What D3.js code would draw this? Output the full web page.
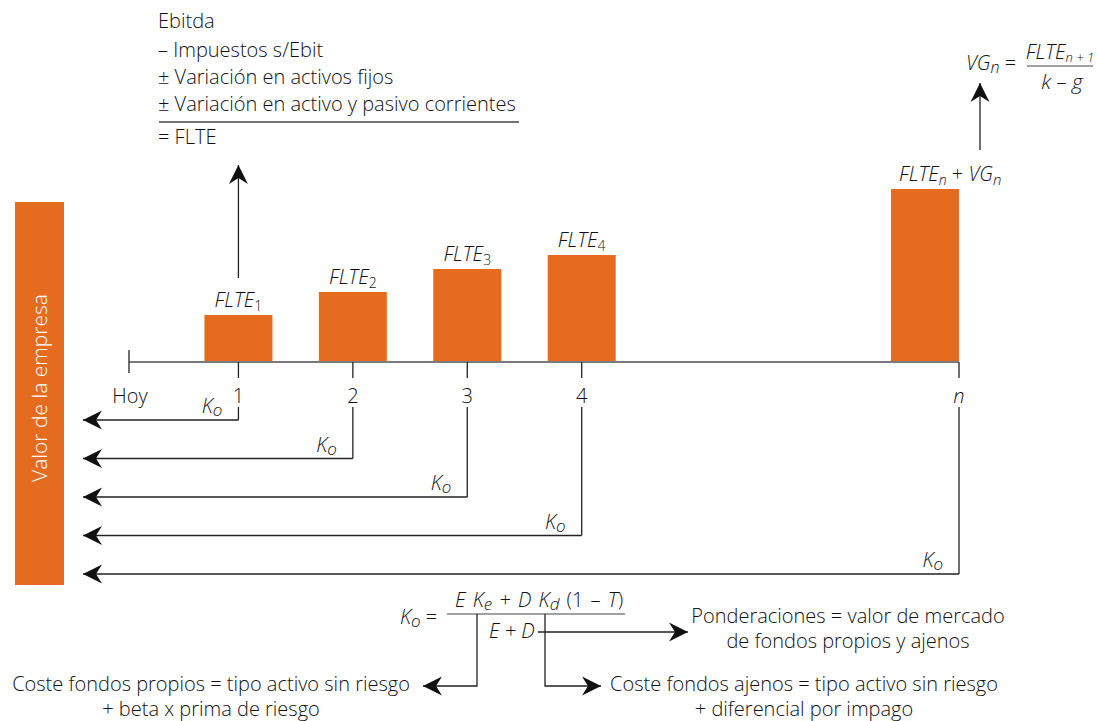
<!DOCTYPE html>
<html lang="es">
<head>
<meta charset="utf-8">
<title>Valor de la empresa — descuento de flujos</title>
<script src="https://cdn.jsdelivr.net/npm/d3@7"></script>
<style>
  html, body { margin: 0; padding: 0; background: #fff; }
  svg { display: block; }
  text { font-family: "Open Sans", "Noto Sans", sans-serif; fill: #111; font-weight: 300; }
</style>
</head>
<body>
<svg id="chart" width="1097" height="721"></svg>
<script>
// Periods on the timeline and the free cash flow of each one
const periods = ["1", "2", "3", "4", "n"];
const periodIndex = [1, 2, 3, 4, 7];
const flteValues = [47, 70, 93, 107, 173];
const barLabels = [
  { base: "FLTE", sub: "1" },
  { base: "FLTE", sub: "2" },
  { base: "FLTE", sub: "3" },
  { base: "FLTE", sub: "4" },
  { base: "FLTE", sub: "n", extra: "VG", extraSub: "n" }
];
const flteSteps = [
  "Ebitda",
  "– Impuestos s/Ebit",
  "± Variación en activos fijos",
  "± Variación en activo y pasivo corrientes",
  "= FLTE"
];
const weightText = ["Ponderaciones = valor de mercado", "de fondos propios y ajenos"];
const equityText = ["Coste fondos propios = tipo activo sin riesgo", "+ beta x prima de riesgo"];
const debtText = ["Coste fondos ajenos = tipo activo sin riesgo", "+ diferencial por impago"];
const sideLabel = "Valor de la empresa";
const todayLabel = "Hoy";

const ORANGE = "#E56C1F";
const INK = "#222";
const FS = "20px";
const svg = d3.select("#chart");

// arrowhead marker
svg.append("defs").append("marker")
  .attr("id", "head")
  .attr("viewBox", "-20 -10 21 20")
  .attr("refX", 0).attr("refY", 0)
  .attr("markerUnits", "userSpaceOnUse")
  .attr("markerWidth", 21).attr("markerHeight", 20)
  .attr("orient", "auto")
  .append("path")
  .attr("d", "M0,0 L-19,-9.5 L-13,0 L-19,9.5 Z")
  .attr("fill", "#111");

const axisY = 362;
const x = d3.scaleLinear().domain([0, 7]).range([124, 925]);
const y = d3.scaleLinear().domain([0, d3.max(flteValues)]).range([axisY, axisY - 173]);
const barW = 68;
const todayX = x(0) + 5;

// side panel
svg.append("rect").attr("x", 15).attr("y", 202).attr("width", 49).attr("height", 383).attr("fill", ORANGE);
svg.append("text")
  .attr("transform", "translate(47,388) rotate(-90)")
  .attr("text-anchor", "middle")
  .style("fill", "#fff").style("font-size", "21px")
  .text(sideLabel);

// bars
const bars = periods.map((p, i) => ({
  p, t: periodIndex[i], v: flteValues[i], lab: barLabels[i],
  cx: x(periodIndex[i])
}));
bars.forEach(d => { d.lead = d.p === "n" ? d.cx + barW / 2 : d.cx; });

svg.selectAll("rect.bar").data(bars).join("rect")
  .attr("class", "bar")
  .attr("x", d => d.cx - barW / 2)
  .attr("y", d => y(d.v))
  .attr("width", barW)
  .attr("height", d => y(0) - y(d.v))
  .attr("fill", ORANGE);

// timeline
svg.append("line").attr("x1", todayX).attr("x2", bars[4].lead).attr("y1", axisY).attr("y2", axisY)
  .attr("stroke", "#7a7a7a").attr("stroke-width", 2);
svg.append("line").attr("x1", todayX).attr("x2", todayX).attr("y1", 350).attr("y2", 373)
  .attr("stroke", "#333").attr("stroke-width", 1.4);
svg.append("text").attr("x", todayX + 1).attr("y", 403).attr("text-anchor", "middle")
  .style("font-size", FS).text(todayLabel);

// bar labels
const labG = svg.selectAll("text.blab").data(bars).join("text")
  .attr("class", "blab")
  .attr("x", d => d.lab.extra ? d.cx - barW / 2 + 8 : d.cx)
  .attr("y", d => y(d.v) - 8)
  .attr("text-anchor", d => d.lab.extra ? "start" : "middle")
  .style("font-size", FS);
labG.each(function(d) {
  const t = d3.select(this);
  const italicSub = isNaN(+d.lab.sub);
  t.append("tspan").style("font-style", "italic").text(d.lab.base);
  t.append("tspan").attr("dy", 4).style("font-size", "14px")
    .style("font-style", italicSub ? "italic" : "normal").text(d.lab.sub);
  if (d.lab.extra) {
    t.append("tspan").attr("dy", -4).text(" + ");
    t.append("tspan").style("font-style", "italic").text(" " + d.lab.extra);
    t.append("tspan").attr("dy", 4).style("font-size", "15px").style("font-style", "italic").text(d.lab.extraSub);
  }
});

// discounting rows
const rowY = i => 420 + i * 38.5;
bars.forEach((d, i) => {
  const ry = rowY(i);
  svg.append("line").attr("x1", d.lead).attr("x2", d.lead).attr("y1", axisY).attr("y2", 378)
    .attr("stroke", INK).attr("stroke-width", 1.3);
  svg.append("line").attr("x1", d.lead).attr("x2", d.lead).attr("y1", 407).attr("y2", ry)
    .attr("stroke", INK).attr("stroke-width", 1.3);
  svg.append("text").attr("x", d.lead).attr("y", 403).attr("text-anchor", "middle")
    .style("font-size", FS)
    .style("font-style", d.p === "n" ? "italic" : "normal").text(d.p);
  svg.append("line").attr("x1", d.lead).attr("x2", 83).attr("y1", ry).attr("y2", ry)
    .attr("stroke", INK).attr("stroke-width", 1.3).attr("marker-end", "url(#head)");
  const k = svg.append("text").attr("x", d.lead - 16).attr("y", ry - 7).attr("text-anchor", "end")
    .style("font-size", FS);
  k.append("tspan").style("font-style", "italic").text("K");
  k.append("tspan").attr("dy", 3).style("font-style", "italic").style("font-size", "17px").text("o");
});

// FLTE build-up
const stepY = [28, 57, 84, 111, 144];
svg.selectAll("text.step").data(flteSteps).join("text")
  .attr("class", "step").attr("x", 158).attr("y", (d, i) => stepY[i])
  .style("font-size", FS).text(d => d);
svg.append("line").attr("x1", 159).attr("x2", 519).attr("y1", 122).attr("y2", 122)
  .attr("stroke", "#444").attr("stroke-width", 1.3);
svg.append("line").attr("x1", bars[0].cx).attr("x2", bars[0].cx).attr("y1", 278).attr("y2", 165)
  .attr("stroke", INK).attr("stroke-width", 1.3).attr("marker-end", "url(#head)");

// terminal value
svg.append("line").attr("x1", 980).attr("x2", 980).attr("y1", 150).attr("y2", 83)
  .attr("stroke", INK).attr("stroke-width", 1.3).attr("marker-end", "url(#head)");
const vg = svg.append("text").attr("x", 966).attr("y", 70).style("font-size", FS);
vg.append("tspan").style("font-style", "italic").text("VG");
vg.append("tspan").attr("dy", 3).style("font-style", "italic").style("font-size", "16px").text("n");
vg.append("tspan").attr("dy", -3).text(" =");
svg.append("line").attr("x1", 1027).attr("x2", 1093).attr("y1", 66).attr("y2", 66)
  .attr("stroke", "#444").attr("stroke-width", 1.2);
const num = svg.append("text").attr("x", 1060).attr("y", 59).attr("text-anchor", "middle")
  .style("font-size", FS);
num.append("tspan").style("font-style", "italic").text("FLTE");
num.append("tspan").attr("dy", 3).style("font-size", "13px").style("font-style", "italic").text("n + 1");
svg.append("text").attr("x", 1062).attr("y", 89).attr("text-anchor", "middle")
  .style("font-size", "21px").style("font-style", "italic").text("k – g");

// discount rate
const ko = svg.append("text").attr("x", 400).attr("y", 624).style("font-size", FS);
ko.append("tspan").style("font-style", "italic").text("K");
ko.append("tspan").attr("dy", 3).style("font-style", "italic").style("font-size", "17px").text("o");
ko.append("tspan").attr("dy", -3).text(" =");
svg.append("line").attr("x1", 447).attr("x2", 625).attr("y1", 614).attr("y2", 614)
  .attr("stroke", "#444").attr("stroke-width", 1.2);
const nm = svg.append("text").attr("x", 455).attr("y", 607).style("font-size", FS)
  .style("word-spacing", "2px");
nm.append("tspan").style("font-style", "italic").text("E K");
nm.append("tspan").attr("dy", 3).style("font-style", "italic").style("font-size", "17px").text("e");
nm.append("tspan").attr("dy", -3).style("font-style", "italic").text(" + D K");
nm.append("tspan").attr("dy", 3).style("font-style", "italic").style("font-size", "17px").text("d");
nm.append("tspan").attr("dy", -3).text(" (1 – ");
nm.append("tspan").style("font-style", "italic").text("T");
nm.append("tspan").text(")");
svg.append("text").attr("x", 489).attr("y", 638).style("font-size", FS)
  .style("font-style", "italic").text("E + D");

svg.append("line").attr("x1", 538).attr("x2", 688).attr("y1", 632).attr("y2", 632)
  .attr("stroke", INK).attr("stroke-width", 1.3).attr("marker-end", "url(#head)");
svg.append("path").attr("d", "M477,614 V686 H423").attr("fill", "none")
  .attr("stroke", INK).attr("stroke-width", 1.3).attr("marker-end", "url(#head)");
svg.append("path").attr("d", "M545,614 V686 H601").attr("fill", "none")
  .attr("stroke", INK).attr("stroke-width", 1.3).attr("marker-end", "url(#head)");

function block(lines, cx, y0, dy) {
  svg.append("g").selectAll("text").data(lines).join("text")
    .attr("x", cx).attr("y", (d, i) => y0 + i * dy).attr("text-anchor", "middle")
    .style("font-size", FS).text(d => d);
}
block(weightText, 848, 623, 25);
block(equityText, 211, 691, 25);
block(debtText, 804, 691, 25);
</script>
</body>
</html>
